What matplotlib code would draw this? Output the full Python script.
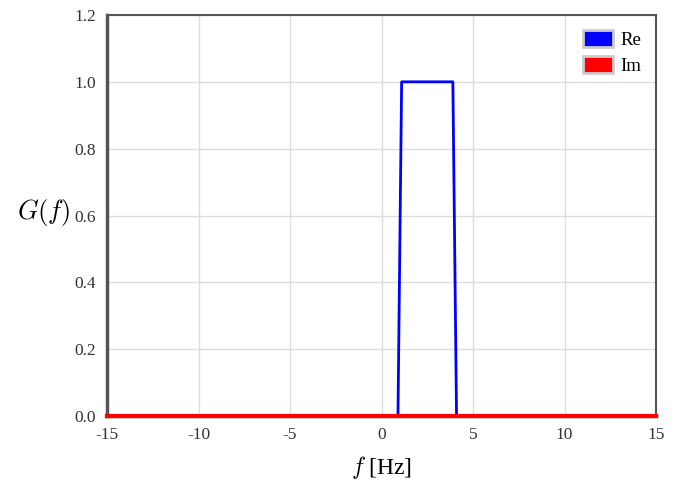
import numpy as np
import matplotlib.pyplot as plt
from matplotlib.patches import Patch

# spectrum G(f) of a band-limited signal
f_re = [-15, 0.9, 1.1, 3.9, 4.1, 15]
g_re = [0, 0, 1, 1, 0, 0]
f_im = [-15, 15]
g_im = [0, 0]

xticks = [-15, -10, -5, 0, 5, 10, 15]
yticks = [0.0, 0.2, 0.4, 0.6, 0.8, 1.0, 1.2]

plt.rcParams['font.family'] = 'Liberation Serif'
plt.rcParams['mathtext.fontset'] = 'cm'

fig = plt.figure(figsize=(6.81, 4.84), dpi=100)
ax = fig.add_axes([107/681, 1-416/484, 549/681, 401/484])

ax.plot(f_re, g_re, color='#0000ff', lw=2, zorder=3)
ax.plot(f_im, g_im, color='#ff0000', lw=3, zorder=4, clip_on=False)

ax.set_xlim(-15, 15)
ax.set_ylim(0, 1.2)
ax.set_xticks(xticks)
ax.set_xticklabels([str(t) for t in xticks])
ax.set_yticks(yticks)
ax.set_yticklabels(['%.1f' % t for t in yticks])
ax.tick_params(length=0, labelsize=12.5, colors='#333333', pad=8)
ax.grid(color='#dddddd', lw=1)
ax.set_axisbelow(True)
for s in ax.spines.values():
    s.set_color('#555555')
    s.set_linewidth(1.5)
ax.spines['left'].set_linewidth(2.5)
ax.spines['bottom'].set_linewidth(2.5)

ax.set_xlabel(r'$\mathbf{\it{f}}$ [Hz]', fontsize=17, labelpad=8)
ax.set_ylabel(r'$G(f)$', fontsize=19, rotation=0, labelpad=22)
ax.yaxis.set_label_coords(-0.115, 0.47)

handles = [Patch(facecolor='#0000ff', edgecolor='#cccccc', lw=2),
           Patch(facecolor='#ff0000', edgecolor='#cccccc', lw=2)]
ax.legend(handles, ['Re', 'Im'], loc='upper right', frameon=False,
          fontsize=13.5, handlelength=1.6, handleheight=1.0, handletextpad=0.4,
          borderaxespad=0.4, labelspacing=0.4)

fig.savefig('out.png', dpi=100)
